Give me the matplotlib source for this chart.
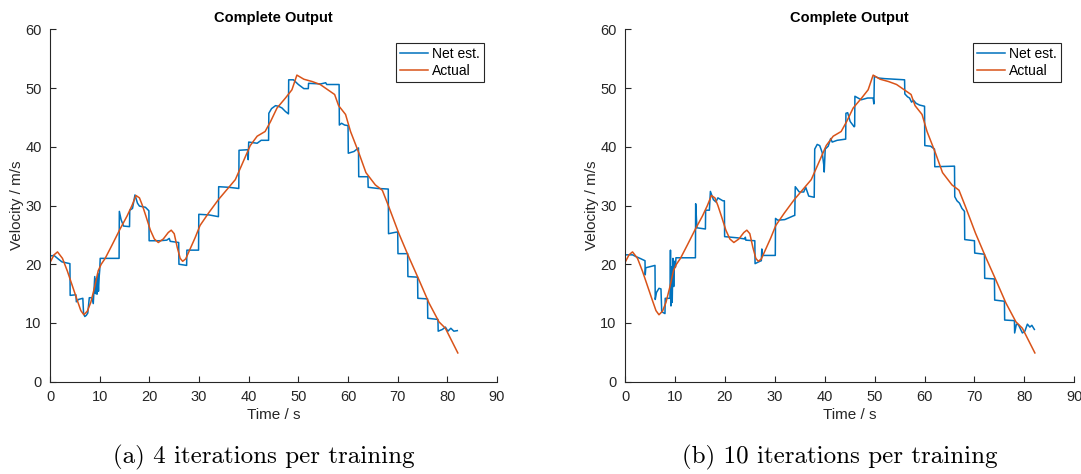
import numpy as np
import matplotlib
matplotlib.use('Agg')
import matplotlib.pyplot as plt

# actual velocity (same in both runs)
t_act = [0, 0.8, 1.5, 2.5, 3.5, 4.5, 5.5, 6.2, 6.8, 7.5, 8.2, 9.0, 9.7, 10.3, 11.1,
         12.5, 14.1, 15.5, 16.5, 17.3, 18.0, 18.6, 19.3, 20.2, 21.0, 21.8, 22.8,
         23.8, 24.4, 25.0, 25.6, 26.2, 26.7, 27.3, 28.2, 29.2, 30.2, 31.9, 33.9,
         35.9, 37.3, 38.6, 40.3, 41.7, 43.3, 44.4, 45.7, 47.4, 48.7, 49.7, 51.1,
         52.8, 54.4, 56.1, 57.3, 58.1, 59.5, 60.5, 62.2, 63.6, 65.5, 66.9, 68.2,
         70.2, 72.2, 74.3, 76.3, 78.3, 79.6, 82.1]
v_act = [20.3, 21.6, 22.1, 21.0, 18.8, 16.3, 13.8, 12.1, 11.4, 12.0, 13.5, 16.2,
         18.9, 20.0, 21.0, 23.3, 26.0, 28.2, 30.0, 31.7, 31.3, 30.0, 28.2, 25.8,
         24.3, 23.7, 24.3, 25.4, 25.8, 25.2, 22.9, 21.0, 20.5, 20.9, 22.6, 24.5,
         26.6, 28.7, 31.0, 33.0, 34.4, 36.9, 40.2, 41.8, 42.6, 44.3, 46.6, 48.3,
         49.7, 52.2, 51.5, 51.1, 50.6, 49.6, 48.9, 47.0, 45.5, 42.6, 38.9, 35.6,
         33.5, 32.6, 29.8, 25.3, 21.3, 17.3, 13.4, 10.2, 9.1, 4.9]

# net estimate, 4 iterations per training
t_net4 = [0, 0.8, 1.5, 2.4, 4.0, 4.05, 5.2, 5.3, 5.7, 6.6, 6.75, 7.0, 7.3, 7.6, 7.9,
          8.4, 8.7, 9.0, 9.15, 9.3, 9.45, 9.6, 9.75, 9.9, 10.0, 10.1, 13.9, 13.95,
          14.3, 14.8, 16.0, 16.05, 16.6, 17.1, 17.6, 18.0, 19.2, 19.9, 19.95, 22.0,
          23.5, 24.0, 24.2, 25.9, 25.95, 27.5, 27.55, 29.9, 29.95, 32.0, 33.9, 33.95,
          36.0, 38.0, 38.05, 39.8, 39.9, 40.0, 41.7, 42.5, 44.0, 44.05, 44.6, 45.4,
          46.0, 46.7, 47.4, 48.0, 48.05, 49.0, 50.0, 51.1, 52.0, 52.05, 54.5, 55.5,
          55.7, 58.2, 58.25, 58.7, 59.3, 60.0, 60.05, 61.2, 62.1, 62.15, 64.0, 64.05,
          66.0, 68.1, 68.15, 69.3, 70.0, 70.05, 72.0, 72.05, 74.0, 74.05, 76.0, 76.05,
          78.1, 78.15, 79.0, 79.6, 80.1, 80.7, 81.3, 82.0]
v_net4 = [21.4, 21.5, 21.0, 20.4, 20.1, 14.7, 14.8, 13.6, 14.0, 14.2, 11.6, 11.1,
          11.3, 11.7, 14.3, 14.3, 13.3, 17.9, 15.0, 17.5, 14.9, 18.4, 15.4, 18.0,
          19.0, 21.0, 21.0, 29.0, 27.6, 26.5, 26.4, 29.2, 29.5, 31.8, 30.4, 29.9,
          29.7, 29.1, 24.0, 24.0, 24.1, 24.4, 23.9, 23.7, 20.0, 19.8, 22.4, 22.4,
          28.5, 28.4, 28.1, 33.2, 33.1, 32.9, 39.4, 39.5, 37.8, 40.8, 40.6, 41.1,
          41.1, 45.7, 46.5, 47.0, 46.9, 46.6, 46.0, 45.6, 51.4, 51.4, 50.6, 49.9,
          49.9, 50.8, 50.7, 50.9, 50.6, 50.6, 43.7, 44.0, 43.7, 43.6, 38.9, 39.2,
          39.8, 34.9, 34.9, 33.1, 32.9, 32.8, 25.2, 25.4, 25.5, 21.8, 21.8, 17.9,
          17.8, 14.2, 14.1, 10.8, 10.6, 8.6, 8.9, 9.3, 8.6, 9.1, 8.6, 8.7]

# net estimate, 10 iterations per training
t_net10 = [0, 1.5, 2.2, 3.0, 4.0, 4.05, 4.15, 6.0, 6.05, 6.3, 6.8, 7.2, 7.35, 8.0,
           8.05, 9.0, 9.1, 9.2, 9.35, 9.45, 9.6, 9.75, 9.9, 10.1, 10.2, 14.1, 14.15,
           14.4, 16.1, 16.15, 16.9, 17.1, 17.7, 18.2, 18.6, 19.6, 19.9, 19.95, 22.5,
           24.0, 24.1, 24.2, 26.0, 26.05, 27.0, 27.3, 27.4, 27.5, 30.1, 30.15, 30.6,
           32.0, 33.9, 34.0, 34.1, 34.9, 35.8, 36.2, 36.8, 37.9, 38.0, 38.5, 39.0,
           39.5, 39.8, 39.9, 40.1, 40.7, 41.2, 41.5, 42.5, 44.2, 44.25, 44.6, 45.1,
           45.9, 46.0, 46.05, 47.3, 48.6, 49.7, 49.85, 49.95, 50.8, 52.0, 54.0, 56.0,
           56.05, 56.6, 57.0, 57.4, 57.8, 58.3, 59.0, 60.0, 60.05, 61.2, 62.0, 62.05,
           66.0, 66.05, 66.5, 67.0, 67.5, 68.0, 68.05, 70.0, 70.05, 72.0, 72.05, 74.0,
           74.05, 76.0, 76.05, 78.0, 78.05, 78.4, 78.8, 79.2, 79.6, 80.1, 80.6, 81.1,
           81.5, 82.0]
v_net10 = [21.6, 21.6, 21.3, 21.0, 20.6, 18.2, 19.4, 19.8, 14.0, 15.2, 15.9, 15.8,
           11.9, 11.6, 14.2, 14.2, 22.4, 12.9, 19.6, 13.5, 21.0, 16.2, 20.5, 19.5,
           21.1, 21.1, 30.3, 26.2, 26.0, 29.2, 29.2, 32.4, 31.0, 30.6, 31.3, 30.8,
           30.8, 24.7, 24.5, 24.3, 24.6, 24.1, 24.0, 20.1, 20.5, 20.6, 22.6, 21.5,
           21.5, 27.8, 27.5, 27.6, 28.3, 28.3, 33.2, 32.3, 32.3, 33.1, 31.6, 31.4,
           39.6, 40.4, 40.2, 39.0, 37.0, 35.7, 39.6, 40.1, 41.4, 40.8, 41.1, 41.3,
           45.7, 45.8, 44.3, 43.4, 43.5, 48.6, 48.0, 48.3, 48.3, 47.3, 52.0, 51.7,
           51.6, 51.5, 51.4, 49.0, 48.5, 48.3, 47.6, 47.9, 47.4, 47.1, 46.9, 40.2,
           40.1, 39.6, 36.6, 36.7, 31.5, 30.8, 30.4, 29.5, 29.0, 24.2, 24.0, 21.9,
           21.7, 17.6, 17.5, 13.9, 13.7, 10.5, 10.4, 8.3, 9.8, 9.7, 9.0, 8.3, 8.6,
           9.8, 9.3, 9.6, 8.9]

captions = ['(a) 4 iterations per training', '(b) 10 iterations per training']
nets = [(t_net4, v_net4), (t_net10, v_net10)]

plt.rcParams['font.family'] = ['Liberation Sans', 'DejaVu Sans']
grey = '#262626'
blue = '#0072BD'
orange = '#D95319'

fig = plt.figure(figsize=(10.81, 4.74), dpi=100)
positions = [[0.0463, 0.1947, 0.4135, 0.7435], [0.5782, 0.1947, 0.4156, 0.7435]]

for i in range(2):
    ax = fig.add_axes(positions[i])
    t_net, v_net = nets[i]
    ax.plot(t_net, v_net, color=blue, lw=1.1, label='Net est.')
    ax.plot(t_act, v_act, color=orange, lw=1.1, label='Actual')
    ax.set_xlim(0, 90)
    ax.set_ylim(0, 60)
    ax.set_xticks(np.arange(0, 91, 10))
    ax.set_yticks(np.arange(0, 61, 10))
    ax.spines['top'].set_visible(False)
    ax.spines['right'].set_visible(False)
    for s in ['left', 'bottom']:
        ax.spines[s].set_color(grey)
        ax.spines[s].set_linewidth(0.8)
    ax.tick_params(direction='in', length=4, width=0.8, colors=grey,
                   labelsize=10.5, pad=6)
    ax.set_title('Complete Output', fontsize=10.5, fontweight='bold', pad=5)
    ax.set_xlabel('Time / s', fontsize=11, color=grey, labelpad=3)
    ax.set_ylabel('Velocity / m/s', fontsize=11, color=grey, labelpad=1)
    leg = ax.legend(loc='upper right', bbox_to_anchor=(0.97, 0.961), fontsize=10,
                    fancybox=False, framealpha=1, edgecolor=grey,
                    handlelength=2.0, handletextpad=0.3, borderpad=0.3,
                    labelspacing=0.2, borderaxespad=0)
    leg.get_frame().set_linewidth(0.8)
    ax.text(0.477, -0.18, captions[i], transform=ax.transAxes, ha='center',
            va='top', fontsize=18, family='cmr10')

fig.savefig('out.png', dpi=100)
